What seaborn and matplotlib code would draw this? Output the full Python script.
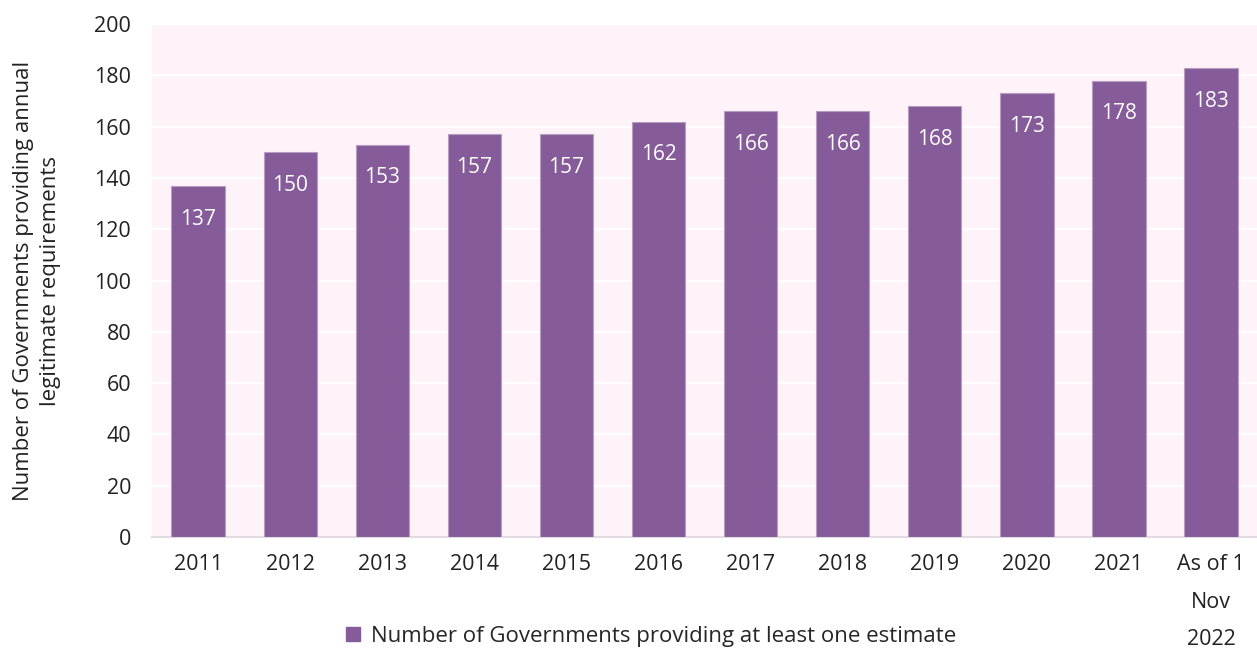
import matplotlib.pyplot as plt
import seaborn as sns
import pandas as pd

sns.set_theme(style="white")
plt.rcParams['font.family'] = ['Open Sans', 'DejaVu Sans']

# data
years = ["2011", "2012", "2013", "2014", "2015", "2016", "2017", "2018",
         "2019", "2020", "2021", "As of 1\nNov\n2022"]
governments = [137, 150, 153, 157, 157, 162, 166, 166, 168, 173, 178, 183]
series_name = "Number of Governments providing at least one estimate"

df = pd.DataFrame({"Year": years, "Governments": governments})

bar_color = "#855C99"

fig = plt.figure(figsize=(12.57, 6.51), dpi=100)
ax = fig.add_axes([0.121, 0.175, 0.879, 0.788])
ax.set_facecolor("#FEF3F9")

sns.barplot(data=df, x="Year", y="Governments", color=bar_color,
            width=0.58, edgecolor="#B79CC4", linewidth=0.8, ax=ax,
            saturation=1, zorder=3)

# value labels inside bars near top
for i, v in enumerate(df["Governments"]):
    ax.annotate(str(v), (i, v), xytext=(0, -24), textcoords="offset points",
                ha="center", va="center", color="white", fontsize=15, zorder=4)

ax.set_ylim(0, 200)
ax.set_yticks(range(0, 201, 20))
ax.set_xlim(-0.5, len(years) - 0.5)
ax.yaxis.grid(True, color="white", linewidth=1.5, zorder=0)
ax.set_axisbelow(True)

for side in ["top", "right", "left"]:
    ax.spines[side].set_visible(False)
ax.spines["bottom"].set_color("#E2DCE2")
ax.spines["bottom"].set_linewidth(1.5)

ax.tick_params(axis="both", length=0, labelsize=15.5, colors="#222222")
ax.tick_params(axis="x", pad=12)
ax.tick_params(axis="y", pad=15)
for lbl in ax.get_xticklabels():
    lbl.set_linespacing(2.05)
    lbl.set_verticalalignment("top")

ax.set_xlabel("")
ax.set_ylabel("Number of Governments providing annual\nlegitimate requirements",
              fontsize=16, color="#222222", labelpad=24, linespacing=1.35)

handle = plt.Rectangle((0, 0), 1, 1, color=bar_color)
fig.legend([handle], [series_name], loc="center",
           bbox_to_anchor=(0.518, 0.022), frameon=False, fontsize=16,
           handlelength=0.6, handleheight=0.6, handletextpad=0.5)

plt.savefig("out.png", dpi=100)
plt.close()
